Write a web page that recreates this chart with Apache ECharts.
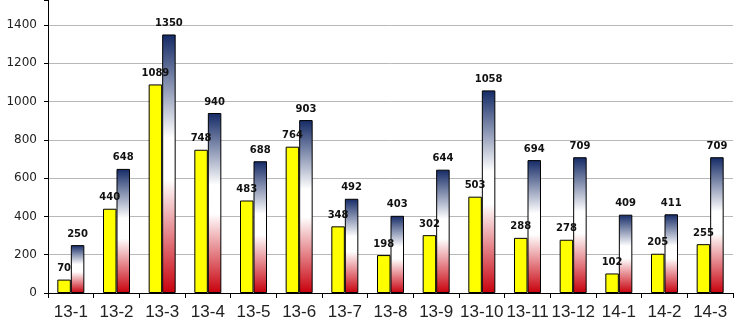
<!DOCTYPE html>
<html>
<head>
<meta charset="utf-8">
<script src="https://cdn.jsdelivr.net/npm/echarts@6/dist/echarts.min.js"></script>
<style>
html,body{margin:0;padding:0;background:#fff;}
#chart{width:746px;height:327px;}
</style>
</head>
<body>
<div id="chart"></div>
<script>
// Monthly figures, two series per month
const categories = ['13-1','13-2','13-3','13-4','13-5','13-6','13-7','13-8','13-9','13-10','13-11','13-12','14-1','14-2','14-3'];
const seriesA = [70,440,1089,748,483,764,348,198,302,503,288,278,102,205,255];
const seriesB = [250,648,1350,940,688,903,492,403,644,1058,694,709,409,411,709];
const yTicks = [0,200,400,600,800,1000,1200,1400];

const chart = echarts.init(document.getElementById('chart'));

const labelStyle = {
  show: true,
  position: 'top',
  distance: 6,
  color: '#111',
  fontFamily: 'DejaVu Sans',
  fontWeight: 'bold',
  fontSize: 10
};

chart.setOption({
  animation: false,
  grid: { left: 48, right: 13, top: 0, bottom: 34 },
  xAxis: {
    type: 'category',
    data: categories,
    axisLine: { lineStyle: { color: '#000', width: 1 } },
    axisTick: { show: true, length: 5, lineStyle: { color: '#000' } },
    axisLabel: {
      interval: 0,
      color: '#222',
      fontFamily: 'Liberation Sans',
      fontSize: 17,
      margin: 11
    }
  },
  yAxis: {
    type: 'value',
    min: 0,
    max: 1530,
    interval: 200,
    axisLine: { show: true, lineStyle: { color: '#000', width: 1 } },
    axisTick: { show: true, length: 4, lineStyle: { color: '#000' } },
    axisLabel: {
      color: '#222',
      fontFamily: 'DejaVu Sans',
      fontSize: 12,
      margin: 11,
      formatter: v => (yTicks.indexOf(v) >= 0 ? String(v) : '')
    },
    splitLine: { show: true, showMaxLine: false, lineStyle: { color: '#b8b8b8', width: 1 } }
  },
  series: [
    {
      type: 'bar',
      data: seriesA,
      barWidth: 13.5,
      barGap: '0%',
      itemStyle: { color: '#ffff00', borderColor: '#000', borderWidth: 1 },
      label: labelStyle
    },
    {
      type: 'bar',
      data: seriesB,
      barWidth: 13.5,
      barGap: '0%',
      itemStyle: {
        color: new echarts.graphic.LinearGradient(0, 0, 0, 1, [
          { offset: 0, color: '#142a66' },
          { offset: 0.4, color: '#ffffff' },
          { offset: 0.56, color: '#ffffff' },
          { offset: 1, color: '#c8000c' }
        ]),
        borderColor: '#000',
        borderWidth: 1
      },
      label: labelStyle
    }
  ]
});
</script>
</body>
</html>
